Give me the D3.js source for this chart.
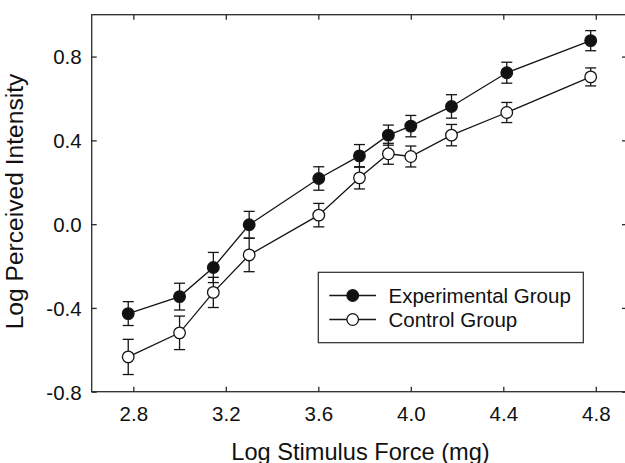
<!DOCTYPE html>
<html>
<head>
<meta charset="utf-8">
<script src="https://cdn.jsdelivr.net/npm/d3@7"></script>
<style>
  html, body { margin: 0; padding: 0; background: #fff; }
  svg { display: block; }
  text { font-family: "Liberation Sans", Arial, Helvetica, sans-serif; fill: #111; }
</style>
</head>
<body>
<svg id="chart" width="625" height="463"></svg>
<script>
// ---- data ----
const stimulusLog = [2.778, 3.0, 3.146, 3.301, 3.602, 3.778, 3.903, 4.0, 4.176, 4.415, 4.778];
const experimentalMean = [-0.427, -0.346, -0.207, -0.003, 0.218, 0.326, 0.425, 0.468, 0.562, 0.723, 0.876];
const experimentalErr  = [0.057, 0.064, 0.072, 0.064, 0.056, 0.054, 0.048, 0.051, 0.056, 0.050, 0.048];
const controlMean = [-0.634, -0.519, -0.326, -0.147, 0.043, 0.221, 0.336, 0.323, 0.425, 0.533, 0.703];
const controlErr  = [0.084, 0.080, 0.072, 0.080, 0.056, 0.053, 0.050, 0.050, 0.051, 0.048, 0.043];
const xTicks = [2.8, 3.2, 3.6, 4.0, 4.4, 4.8];
const yTicks = [-0.8, -0.4, 0.0, 0.4, 0.8];
const seriesNames = ["Experimental Group", "Control Group"];
const xTitle = "Log Stimulus Force (mg)";
const yTitle = "Log Perceived Intensity";

// ---- layout ----
const svg = d3.select("#chart");
const pLeft = 91.7, pRight = 627, pTop = 14.7, pBottom = 391.7;
const x = d3.scaleLinear().domain([2.62, 4.935]).range([pLeft, pRight]);
const y = d3.scaleLinear().domain([-0.8, 1.0]).range([pBottom, pTop]);
const ink = "#151515";
const axisInk = "#2a2a2a";
const tickLen = 5;
const fmt = d => d.toFixed(1); // plain hyphen minus as in the reference

// frame
svg.append("rect")
  .attr("x", pLeft).attr("y", pTop)
  .attr("width", pRight - pLeft).attr("height", pBottom - pTop)
  .attr("fill", "none").attr("stroke", axisInk).attr("stroke-width", 1.3);

// axes (inward ticks)
const gx = svg.append("g").attr("transform", `translate(0,${pBottom})`)
  .call(d3.axisBottom(x).tickValues(xTicks).tickSizeInner(-tickLen).tickSizeOuter(0).tickFormat(fmt));
const gxTop = svg.append("g").attr("transform", `translate(0,${pTop})`)
  .call(d3.axisTop(x).tickValues(xTicks).tickSizeInner(-tickLen).tickSizeOuter(0).tickFormat(""));
const gy = svg.append("g").attr("transform", `translate(${pLeft},0)`)
  .call(d3.axisLeft(y).tickValues(yTicks).tickSizeInner(-tickLen).tickSizeOuter(0)
        .tickPadding(10).tickFormat(fmt));
const gyRight = svg.append("g").attr("transform", `translate(${pRight},0)`)
  .call(d3.axisRight(y).tickValues(yTicks).tickSizeInner(-tickLen).tickSizeOuter(0).tickFormat(""));

[gx, gxTop, gy, gyRight].forEach(g => {
  g.select(".domain").remove();
  g.selectAll(".tick line").attr("stroke", axisInk).attr("stroke-width", 1.3);
  g.selectAll(".tick text")
    .attr("font-family", '"Liberation Sans", Arial, sans-serif')
    .attr("font-size", 20.5).attr("fill", "#111");
});
gx.selectAll(".tick text").attr("dy", null).attr("y", 29.5);
gy.selectAll(".tick text").attr("x", -10).attr("dy", "0.36em");

// titles
svg.append("text")
  .attr("x", 360.5).attr("y", 459.5)
  .attr("text-anchor", "middle").attr("font-size", 23.6)
  .text(xTitle);
svg.append("text")
  .attr("transform", "translate(23,201.5) rotate(-90)")
  .attr("text-anchor", "middle").attr("font-size", 24.6)
  .text(yTitle);

// series
const series = [
  { name: seriesNames[1], mean: controlMean, err: controlErr, fill: "#fff" },
  { name: seriesNames[0], mean: experimentalMean, err: experimentalErr, fill: "#111" }
];
const line = d3.line().x(d => x(d.x)).y(d => y(d.m));
const capW = 5.5, r = 5.8, sw = 1.3;

series.forEach(s => {
  const pts = stimulusLog.map((v, i) => ({ x: v, m: s.mean[i], e: s.err[i] }));
  const g = svg.append("g");
  g.append("path").datum(pts).attr("d", line)
    .attr("fill", "none").attr("stroke", ink).attr("stroke-width", sw);
  const eb = g.selectAll(".eb").data(pts).enter().append("g");
  eb.append("line")
    .attr("x1", d => x(d.x)).attr("x2", d => x(d.x))
    .attr("y1", d => y(d.m - d.e)).attr("y2", d => y(d.m + d.e))
    .attr("stroke", ink).attr("stroke-width", sw);
  eb.append("line")
    .attr("x1", d => x(d.x) - capW).attr("x2", d => x(d.x) + capW)
    .attr("y1", d => y(d.m + d.e)).attr("y2", d => y(d.m + d.e))
    .attr("stroke", ink).attr("stroke-width", sw);
  eb.append("line")
    .attr("x1", d => x(d.x) - capW).attr("x2", d => x(d.x) + capW)
    .attr("y1", d => y(d.m - d.e)).attr("y2", d => y(d.m - d.e))
    .attr("stroke", ink).attr("stroke-width", sw);
  g.selectAll("circle").data(pts).enter().append("circle")
    .attr("cx", d => x(d.x)).attr("cy", d => y(d.m)).attr("r", r)
    .attr("fill", s.fill).attr("stroke", ink).attr("stroke-width", sw);
});

// legend
const lg = svg.append("g");
lg.append("rect").attr("x", 318.3).attr("y", 272.3).attr("width", 265).attr("height", 70.4)
  .attr("fill", "#fff").attr("stroke", axisInk).attr("stroke-width", 1.2);
const legendItems = [
  { name: seriesNames[0], fill: "#111", cy: 295.5 },
  { name: seriesNames[1], fill: "#fff", cy: 319.5 }
];
legendItems.forEach(it => {
  lg.append("line").attr("x1", 329.3).attr("x2", 376).attr("y1", it.cy).attr("y2", it.cy)
    .attr("stroke", ink).attr("stroke-width", sw);
  lg.append("circle").attr("cx", 352.7).attr("cy", it.cy).attr("r", r)
    .attr("fill", it.fill).attr("stroke", ink).attr("stroke-width", sw);
  lg.append("text").attr("x", 388.5).attr("y", it.cy + 7.5)
    .attr("font-size", 20.5).text(it.name);
});
</script>
</body>
</html>
